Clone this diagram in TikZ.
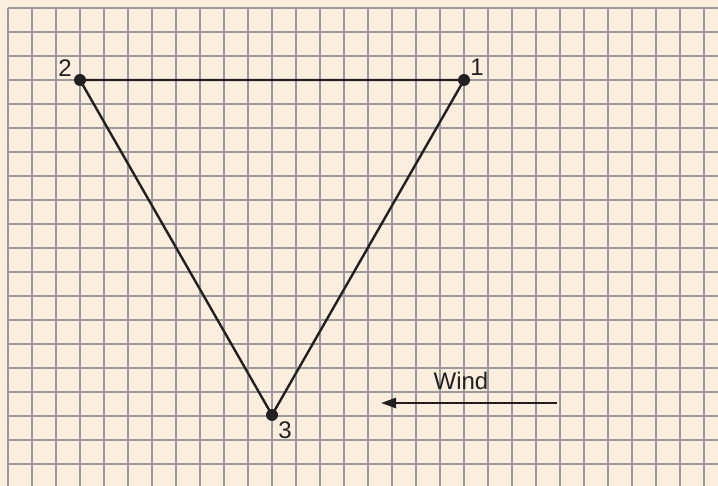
\documentclass[tikz,border=0pt]{standalone}
\usepackage{fontspec}
\setmainfont{Liberation Sans}
\usetikzlibrary{arrows.meta, positioning}

\definecolor{paper}{RGB}{252,238,223}
\definecolor{gridgray}{RGB}{155,155,158}
\definecolor{ink}{RGB}{35,31,32}

\begin{document}
\begin{tikzpicture}[
  x=1pt, y=-1pt,
  gridline/.style={draw=gridgray, line width=1.6pt},
  side/.style={draw=ink, line width=2.4pt},
  dot/.style={circle, fill=ink, inner sep=0pt, minimum size=12pt},
  num/.style={text=ink, font=\fontsize{24}{28}\selectfont, inner sep=1pt},
  windarrow/.style={draw=ink, line width=2.4pt, -{Triangle[length=15pt, width=10pt]}}
  ]

  \fill[paper] (0,0) rectangle (718,486);
  \useasboundingbox (0,0) rectangle (718,486);

  \foreach \i in {0,...,29}
    \draw[gridline] (8+24*\i,8) -- (8+24*\i,486);
  \foreach \j in {0,...,19}
    \draw[gridline] (8,8+24*\j) -- (718,8+24*\j);

  \node[dot] (p1) at (464,80) {};
  \node[dot] (p2) at (80,80) {};
  \node[dot] (p3) at (272,415) {};

  \draw[side] (p1.center) -- (p2.center) -- (p3.center) -- cycle;

  \node[num] (n1) at (477,67) {1};
  \node[num] (n2) at (65,68) {2};
  \node[num] (n3) at (285,430) {3};

  \coordinate (windstart) at (557,403);
  \coordinate (windend) at (381,403);
  \draw[windarrow] (windstart) -- (windend);
  \node[num] (wind) at (461,381) {Wind};

\end{tikzpicture}
\end{document}
